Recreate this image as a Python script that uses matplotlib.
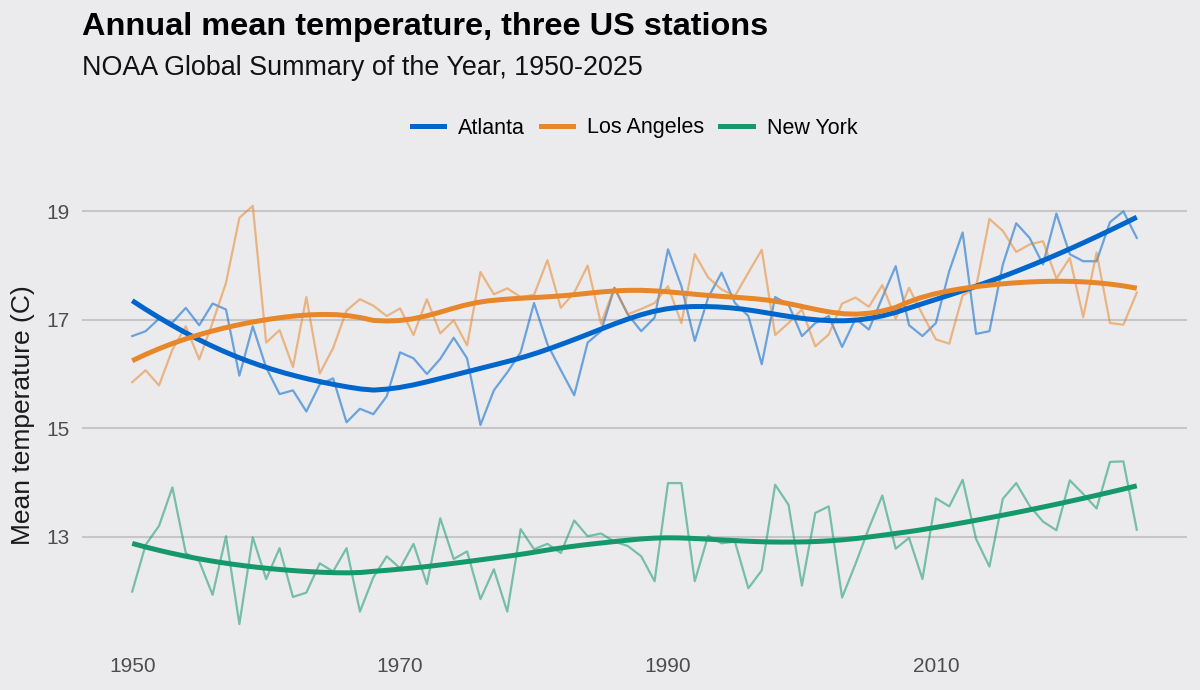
import numpy as np
import matplotlib
matplotlib.use("Agg")
import matplotlib.pyplot as plt
from matplotlib.lines import Line2D

plt.rcParams['font.family'] = ['Liberation Sans', 'DejaVu Sans']

years = list(range(1950, 2026))

atlanta = [16.70, 16.79, 17.02, 16.95, 17.22, 16.90, 17.30, 17.19, 15.97, 16.88,
           16.12, 15.63, 15.70, 15.31, 15.81, 15.92, 15.11, 15.36, 15.26, 15.59,
           16.40, 16.29, 16.00, 16.28, 16.67, 16.29, 15.06, 15.70, 16.03, 16.40,
           17.31, 16.55, 16.07, 15.61, 16.58, 16.79, 17.59, 17.10, 16.79, 17.04,
           18.30, 17.62, 16.61, 17.41, 17.87, 17.31, 17.07, 16.18, 17.42, 17.28,
           16.70, 16.94, 17.07, 16.50, 17.02, 16.82, 17.41, 17.99, 16.90, 16.70,
           16.94, 17.90, 18.61, 16.74, 16.79, 18.02, 18.78, 18.51, 18.02, 18.96,
           18.21, 18.08, 18.08, 18.80, 19.00, 18.51]

los_angeles = [15.85, 16.07, 15.79, 16.45, 16.88, 16.27, 16.95, 17.68, 18.88, 19.10,
               16.58, 16.81, 16.13, 17.42, 16.01, 16.48, 17.17, 17.38, 17.26, 17.07,
               17.21, 16.72, 17.38, 16.75, 16.99, 16.53, 17.88, 17.47, 17.58, 17.42,
               17.46, 18.10, 17.22, 17.50, 18.00, 16.93, 17.59, 17.10, 17.20, 17.31,
               17.62, 16.94, 18.21, 17.78, 17.56, 17.44, 17.87, 18.29, 16.72, 16.94,
               17.19, 16.51, 16.73, 17.30, 17.41, 17.24, 17.64, 17.02, 17.59, 17.10,
               16.64, 16.56, 17.45, 17.60, 18.86, 18.64, 18.25, 18.39, 18.45, 17.76,
               18.14, 17.05, 18.24, 16.94, 16.91, 17.50]

new_york = [11.99, 12.85, 13.20, 13.91, 12.70, 12.55, 11.93, 13.01, 11.39, 12.99,
            12.22, 12.79, 11.89, 11.97, 12.51, 12.36, 12.79, 11.62, 12.25, 12.64,
            12.42, 12.87, 12.13, 13.34, 12.59, 12.73, 11.85, 12.40, 11.62, 13.14,
            12.77, 12.87, 12.70, 13.30, 13.01, 13.06, 12.91, 12.83, 12.64, 12.18,
            13.99, 13.99, 12.18, 13.02, 12.88, 12.91, 12.05, 12.38, 13.96, 13.59,
            12.10, 13.44, 13.56, 11.88, 12.50, 13.16, 13.76, 12.78, 12.98, 12.22,
            13.71, 13.56, 14.05, 12.96, 12.45, 13.70, 13.99, 13.57, 13.28, 13.12,
            14.04, 13.79, 13.52, 14.38, 14.39, 13.13]

stations = ["Atlanta", "Los Angeles", "New York"]
colors = ["#0066CC", "#E8862A", "#16996A"]


def loess(x, y, span=0.5, n_out=80):
    # local quadratic fit with tricube weights
    x = np.asarray(x, float)
    y = np.asarray(y, float)
    q = int(np.floor(len(x) * span))
    xs = np.linspace(x.min(), x.max(), n_out)
    ys = []
    for x0 in xs:
        d = np.abs(x - x0)
        h = np.sort(d)[q - 1]
        w = np.clip(1 - (d / h) ** 3, 0, None) ** 3
        X = np.column_stack([np.ones_like(x), x - x0, (x - x0) ** 2])
        W = np.sqrt(w)
        beta = np.linalg.lstsq(X * W[:, None], y * W, rcond=None)[0]
        ys.append(beta[0])
    return xs, np.array(ys)


bg = "#EBEBEE"
fig = plt.figure(figsize=(12, 6.9), dpi=100, facecolor=bg)
ax = fig.add_axes([82 / 1200, 45 / 690, 1105 / 1200, 460 / 690])
ax.set_facecolor(bg)

for vals, c in zip([atlanta, los_angeles, new_york], colors):
    ax.plot(years, vals, color=c, alpha=0.55, lw=1.6, zorder=2)
for vals, c in zip([atlanta, los_angeles, new_york], colors):
    sx, sy = loess(years, vals)
    ax.plot(sx, sy, color=c, lw=3.6, solid_capstyle="butt", zorder=3)

ax.margins(x=0.05, y=0.05)
ax.set_yticks([13, 15, 17, 19])
ax.set_xticks([1950, 1970, 1990, 2010])
ax.grid(axis="y", color="#C6C6C8", lw=1.5)
ax.grid(axis="x", visible=False)
ax.set_axisbelow(True)
for s in ax.spines.values():
    s.set_visible(False)
ax.tick_params(length=0, labelsize=15, labelcolor="#4D4D4D", pad=9)
ax.set_ylabel("Mean temperature (C)", fontsize=19, color="#1A1A1A", labelpad=8)

fig.text(82 / 1200, 1 - 27 / 690, "Annual mean temperature, three US stations",
         fontsize=23.4, fontweight="bold", va="center", ha="left", color="black")
fig.text(82 / 1200, 1 - 68 / 690, "NOAA Global Summary of the Year, 1950-2025",
         fontsize=19.4, va="center", ha="left", color="#111111")

handles = [Line2D([], [], color=c, lw=3.6) for c in colors]
fig.legend(handles, stations, loc="center", bbox_to_anchor=(634.5 / 1200, 1 - 128 / 690),
           ncol=3, frameon=False, fontsize=15.5, handlelength=1.5, columnspacing=0.75,
           handletextpad=0.65)

fig.savefig("out.png", dpi=100, facecolor=bg)
